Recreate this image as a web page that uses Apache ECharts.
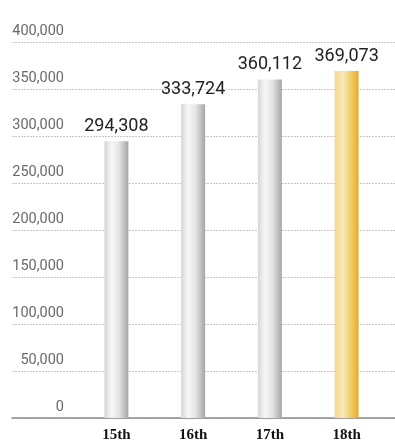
<!DOCTYPE html>
<html>
<head>
<meta charset="utf-8">
<style>
  html, body { margin: 0; padding: 0; background: #fff; }
  #chart { width: 395px; height: 446px; }
</style>
<script src="https://cdn.jsdelivr.net/npm/echarts@6/dist/echarts.min.js"></script>
</head>
<body>
<div id="chart"></div>
<script>
// Sessions and their totals
const categories = ['15th', '16th', '17th', '18th'];
const totals = [294308, 333724, 360112, 369073];
const yTicks = { min: 0, max: 400000, step: 50000 };

const chart = echarts.init(document.getElementById('chart'), null, { renderer: 'canvas' });

// cylinder-like shading across each bar
const grayFill = new echarts.graphic.LinearGradient(0, 0, 1, 0, [
  { offset: 0, color: '#d6d6d6' },
  { offset: 0.3, color: '#f7f7f7' },
  { offset: 0.6, color: '#e4e4e4' },
  { offset: 1, color: '#a6a6a6' }
]);
const goldFill = new echarts.graphic.LinearGradient(0, 0, 1, 0, [
  { offset: 0, color: '#f2d88e' },
  { offset: 0.35, color: '#f9e8b8' },
  { offset: 0.7, color: '#f0c964' },
  { offset: 1, color: '#e6ab2c' }
]);

const gridTop = 42, gridBottom = 28;

chart.setOption({
  animation: false,
  grid: [
    // full-width grid carrying the value scale, dotted guides and baseline
    { left: 12, right: 0, top: gridTop, bottom: gridBottom },
    // inner grid holding the bars
    { left: 78, right: 10, top: gridTop, bottom: gridBottom }
  ],
  xAxis: [
    {
      gridIndex: 0, type: 'category', data: [''],
      axisLine: { show: true, lineStyle: { color: '#8a8a8a', width: 1.5 } },
      axisTick: { show: false }, axisLabel: { show: false }
    },
    {
      gridIndex: 1, type: 'category', data: categories,
      axisLine: { show: false }, axisTick: { show: false },
      axisLabel: {
        margin: 10,
        fontFamily: '"Liberation Serif", serif', fontWeight: 'bold',
        fontSize: 15, color: '#111'
      }
    }
  ],
  yAxis: [
    {
      gridIndex: 0, type: 'value',
      min: yTicks.min, max: yTicks.max, interval: yTicks.step,
      axisLine: { show: false }, axisTick: { show: false },
      splitLine: { lineStyle: { color: '#c4c4c4', type: [2, 1], width: 1 } },
      axisLabel: {
        inside: true, align: 'right', verticalAlign: 'bottom', margin: 52,
        padding: [0, 0, 3, 0],
        fontFamily: 'Roboto, sans-serif', fontSize: 14.5, color: '#6a6a6a',
        formatter: v => v.toLocaleString('en-US')
      }
    },
    {
      gridIndex: 1, type: 'value',
      min: yTicks.min, max: yTicks.max, interval: yTicks.step,
      show: false
    }
  ],
  series: [
    {
      type: 'bar', xAxisIndex: 1, yAxisIndex: 1,
      data: totals, barWidth: 24,
      itemStyle: {
        color: p => (p.dataIndex === categories.length - 1 ? goldFill : grayFill)
      },
      label: {
        show: true, position: 'top', distance: 6,
        fontFamily: 'Roboto, sans-serif', fontSize: 18, color: '#222',
        formatter: p => p.value.toLocaleString('en-US')
      }
    }
  ]
});
</script>
</body>
</html>
